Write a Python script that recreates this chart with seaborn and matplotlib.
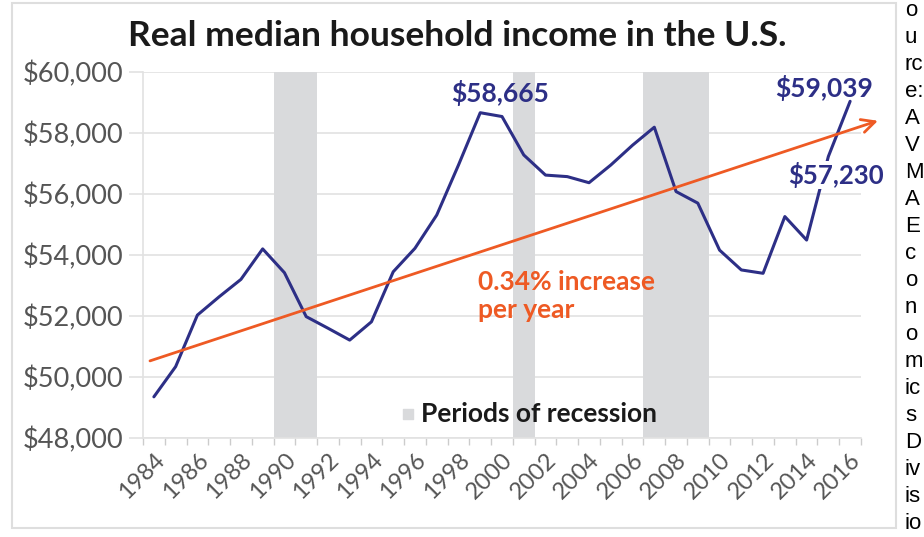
import matplotlib
matplotlib.use('Agg')
import matplotlib.pyplot as plt
import matplotlib.ticker as mticker
from matplotlib.patches import Rectangle
import seaborn as sns
import pandas as pd
import numpy as np

# Real median household income
years = list(range(1984, 2017))
income = [49350, 50340, 52030, 52630, 53200, 54200, 53420, 51980, 51600, 51210,
          51810, 53450, 54220, 55310, 56950, 58665, 58540, 57280, 56620, 56570,
          56370, 56950, 57600, 58190, 56080, 55700, 54160, 53510, 53400, 55260,
          54490, 57230, 59039]

# recession periods (first year, last year)
recession_start = [1990, 2001, 2007]
recession_end = [1991, 2001, 2009]

# trend line end points (year, value)
trend_x = [1984.2, 2017.9]
trend_y = [50500, 58430]
trend_label = '0.34% increase\nper year'

callouts = [('$58,665', 2000.4, 59310), ('$59,039', 2015.3, 59480)]
callout_2015 = ('$57,230', 2015.85, 56620)

source_pieces = ['o', 'u', 'rc', 'e:', 'A', 'V', 'M', 'A', 'E', 'c', 'o', 'n',
                 'o', 'm', 'ic', 's', 'D', 'iv', 'is', 'io']

NAVY = '#2d2f86'
ORANGE = '#ee5a24'
BAND = '#d9dadc'
GRID = '#e2e2e2'
TICK = '#555555'

sns.set_theme(style='white')
plt.rcParams['font.family'] = ['Lato', 'DejaVu Sans']

df = pd.DataFrame({'year': np.array(years) + 0.5, 'income': income})

W, H = 924, 537
fig = plt.figure(figsize=(W / 100, H / 100), dpi=100)
ax = fig.add_axes([143 / W, 1 - 438 / H, (861 - 143) / W, (438 - 72) / H])

# card border
fig.patches.append(Rectangle((12 / W, 1 - 528 / H), (896 - 12) / W, (528 - 3) / H,
                             transform=fig.transFigure, fill=False,
                             edgecolor='#dedede', lw=1.5))

for s, e in zip(recession_start, recession_end):
    ax.axvspan(s, e + 1, color=BAND, lw=0, zorder=1)

sns.lineplot(data=df, x='year', y='income', color=NAVY, lw=2.2, ax=ax, zorder=3)

ax.annotate('', xy=(trend_x[1], trend_y[1]), xytext=(trend_x[0], trend_y[0]),
            arrowprops=dict(arrowstyle='->', color=ORANGE, lw=2, mutation_scale=24),
            annotation_clip=False, zorder=4)

ax.set_xlim(1984, 2017)
ax.set_ylim(48000, 60000)
ax.set_yticks(np.arange(48000, 60001, 2000))
ax.yaxis.set_major_formatter(mticker.StrMethodFormatter('${x:,.0f}'))
ax.set_xticks(np.arange(1984, 2017, 2) + 0.5)
ax.set_xticklabels([str(y) for y in range(1984, 2017, 2)])
ax.set_xticks(np.arange(1984, 2018), minor=True)
ax.grid(axis='y', color=GRID, lw=1.2, zorder=0)
ax.set_axisbelow(True)
ax.set_xlabel('')
ax.set_ylabel('')

ax.tick_params(axis='y', length=10, width=1.2, color=GRID, labelsize=19.5,
               labelcolor=TICK, pad=4, left=True)
ax.tick_params(axis='x', which='major', length=0, labelsize=17, labelcolor=TICK, pad=8)
ax.tick_params(axis='x', which='minor', length=5, width=1, color='#cccccc', bottom=True)
plt.setp(ax.get_xticklabels(), rotation=45, ha='right', rotation_mode='anchor')

for side in ['top', 'right']:
    ax.spines[side].set_visible(False)
for side in ['left', 'bottom']:
    ax.spines[side].set_color(GRID)
    ax.spines[side].set_linewidth(1.2)

for text, x, y in callouts:
    ax.text(x, y, text, color=NAVY, fontsize=19, fontweight='bold',
            ha='center', va='center', zorder=5, clip_on=False)
ax.text(callout_2015[1], callout_2015[2], callout_2015[0], color=NAVY, fontsize=18.5,
        fontweight='bold', ha='center', va='center', zorder=5, clip_on=False,
        bbox=dict(facecolor='white', edgecolor='none', pad=0.5))

ax.text(1999.4, 53500, trend_label, color=ORANGE, fontsize=19, fontweight='bold',
        ha='left', va='top', linespacing=1.2, zorder=5)

# legend for the grey bands
ax.scatter([1996.2], [48780], marker='s', s=60, color=BAND, zorder=5)
ax.text(1996.8, 48780, 'Periods of recession', fontsize=19, fontweight='bold',
        color='#1a1a1a', ha='left', va='center', zorder=5)

fig.text(457 / W, 1 - 36 / H, 'Real median household income in the U.S.',
         fontsize=25.5, fontweight='bold', color='#1a1a1a', ha='center', va='center')

for i, piece in enumerate(source_pieces):
    fig.text(905 / W, 1 - (8 + 27.0 * i) / H, piece, fontsize=16, color='black',
             family='Liberation Sans', ha='left', va='center_baseline')

fig.savefig('out.png', dpi=100)
